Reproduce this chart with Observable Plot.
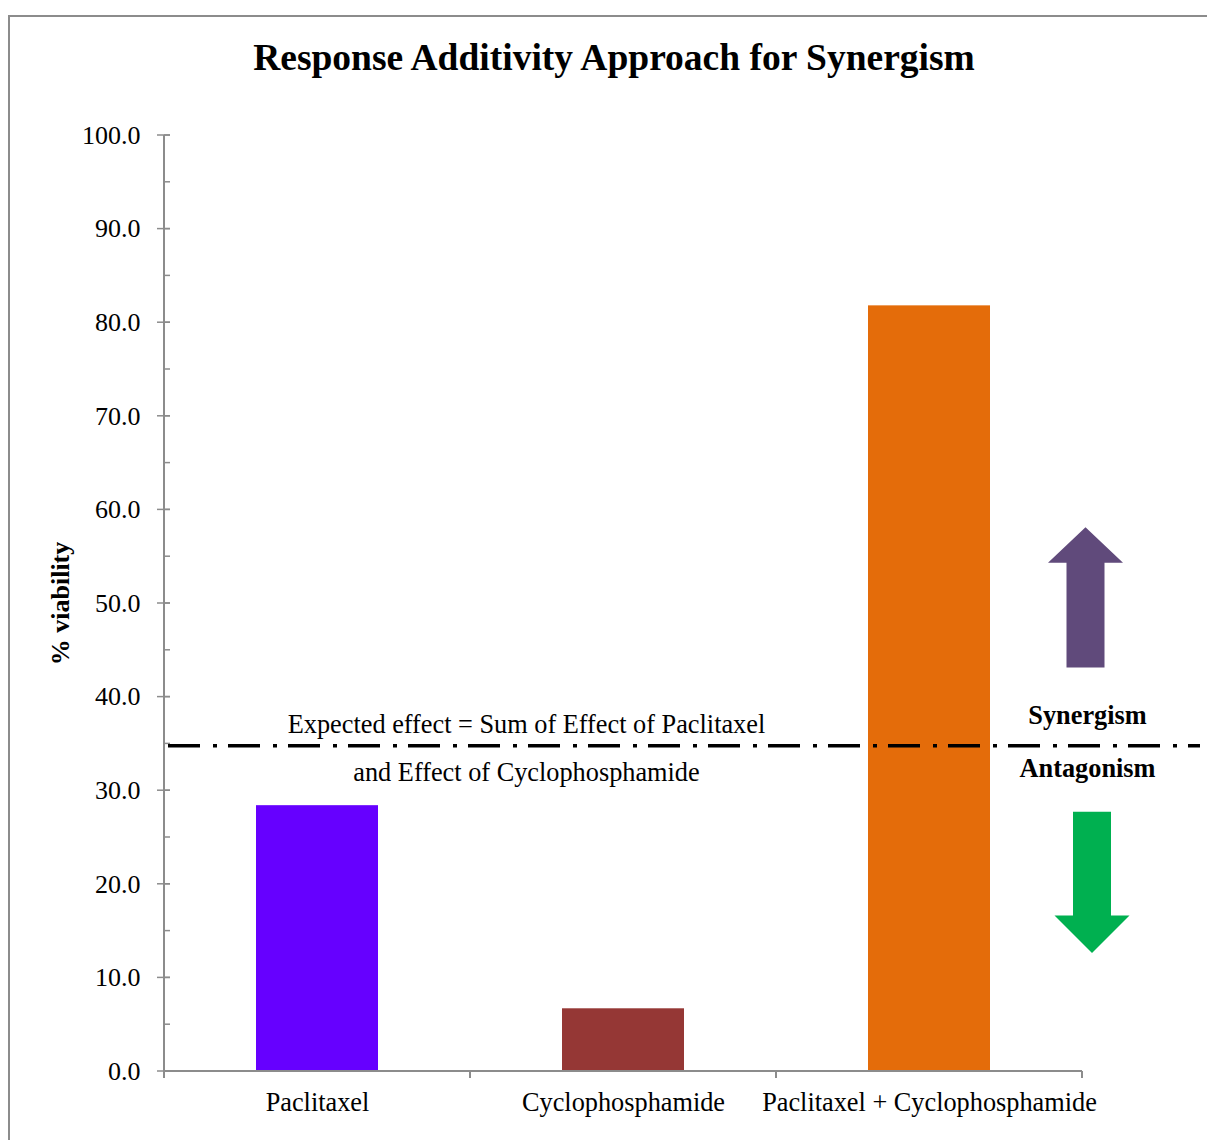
<!DOCTYPE html>
<html>
<head>
<meta charset="utf-8">
<script src="https://cdn.jsdelivr.net/npm/d3@7"></script>
<script src="https://cdn.jsdelivr.net/npm/@observablehq/plot@0.6"></script>
<style>
  html, body { margin: 0; padding: 0; background: #fff; overflow: hidden; }
  #page { position: relative; width: 1207px; height: 1140px; overflow: hidden; font-family: "Liberation Serif", "Times New Roman", serif; }
  #border { position: absolute; left: 8px; top: 15px; width: 1300px; height: 1300px; border: 2px solid #8c8c8c; box-sizing: border-box; }
  #title { position: absolute; left: 0; top: 40px; width: 1228px; text-align: center; font-size: 37.5px; line-height: 36px; font-weight: bold; color: #000; }
  #chart { position: absolute; left: 0; top: 100px; }
</style>
</head>
<body>
<div id="page">
  <div id="border"></div>
  <div id="title">Response Additivity Approach for Synergism</div>
  <div id="chart"></div>
</div>
<script>
// ---- data ----
const categories = ["Paclitaxel", "Cyclophosphamide", "Paclitaxel + Cyclophosphamide"];
const viability = [28.4, 6.7, 81.8];
const barColors = ["#6600FF", "#953735", "#E46C0A"];
const expectedEffect = 34.8;
const yTicks = [0, 10, 20, 30, 40, 50, 60, 70, 80, 90, 100];
const yMinorTicks = [0, 5, 10, 15, 20, 25, 30, 35, 40, 45, 50, 55, 60, 65, 70, 75, 80, 85, 90, 95, 100];
const upArrowY = [43.1, 54.3, 58.1];     // tail, head base, tip
const downArrowY = [27.7, 16.6, 12.6];   // tail, head base, tip
const expectedLines = ["Expected effect = Sum of Effect of Paclitaxel", "and Effect of Cyclophosphamide"];
const zoneLabels = ["Synergism", "Antagonism"];

const bars = categories.map((c, i) => ({category: c, value: viability[i], color: barColors[i]}));

const axisColor = "#8c8c8c";

// axis lines, ticks, and direction arrows drawn via the chart's scales
function axesAndArrows(index, scales, values, dims) {
  const {x, y} = scales;
  const g = d3.create("svg:g");
  const left = dims.marginLeft, right = dims.width - dims.marginRight;
  const bw = x.bandwidth ? x.bandwidth() : 0;
  g.append("line").attr("x1", left).attr("x2", left).attr("y1", y(0)).attr("y2", y(100))
    .attr("stroke", axisColor).attr("stroke-width", 2);
  g.append("line").attr("x1", left).attr("x2", right).attr("y1", y(0)).attr("y2", y(0))
    .attr("stroke", axisColor).attr("stroke-width", 2);
  for (const t of yMinorTicks) {
    g.append("line").attr("x1", left).attr("x2", left + 6).attr("y1", y(t)).attr("y2", y(t))
      .attr("stroke", axisColor).attr("stroke-width", 1.5);
  }
  for (const t of yTicks) {
    g.append("line").attr("x1", left - 7).attr("x2", left + 6).attr("y1", y(t)).attr("y2", y(t))
      .attr("stroke", axisColor).attr("stroke-width", 1.5);
  }
  const bounds = [left];
  for (let i = 0; i < categories.length - 1; i++) {
    bounds.push((x(categories[i]) + bw + x(categories[i + 1])) / 2);
  }
  bounds.push(right);
  for (const b of bounds) {
    g.append("line").attr("x1", b).attr("x2", b).attr("y1", y(0)).attr("y2", y(0) + 7)
      .attr("stroke", axisColor).attr("stroke-width", 2);
  }
  const arrow = (cx, ys, color) => {
    const [yt, yh, yp] = ys.map(y);
    const hs = 19, hh = 37.5;
    const pts = [[cx - hs, yt], [cx - hs, yh], [cx - hh, yh], [cx, yp], [cx + hh, yh], [cx + hs, yh], [cx + hs, yt]];
    g.append("polygon").attr("points", pts.map(p => p.join(",")).join(" ")).attr("fill", color);
  };
  arrow(right + 3.5, upArrowY, "#604A7B");
  arrow(right + 10, downArrowY, "#00B050");
  return g.node();
}

const plot = Plot.plot({
  width: 1207,
  height: 1040,
  marginTop: 35,
  marginBottom: 69,
  marginLeft: 164,
  marginRight: 125,
  style: {fontFamily: "Liberation Serif, Times New Roman, serif", fontSize: "26px", color: "#000", background: "transparent"},
  x: {domain: categories, paddingInner: 0.6, paddingOuter: 0.3, label: null},
  y: {domain: [0, 100], label: null},
  marks: [
    Plot.barY(bars, {x: "category", y: "value", fill: "color"}),
    axesAndArrows,
    Plot.axisY({ticks: yTicks, tickSize: 0, tickPadding: 24, tickFormat: d3.format(".1f"), fontSize: 26}),
    Plot.axisX({tickSize: 0, tickPadding: 21, fontSize: 26.3}),
    Plot.ruleY([expectedEffect], {stroke: "#000", strokeWidth: 3.5, strokeDasharray: "32,13,4,11", insetLeft: 4, insetRight: -118}),
    Plot.text([expectedLines[0]], {x: () => categories[1], y: () => expectedEffect, text: d => d, dx: -97, dy: -13, lineAnchor: "bottom", fontSize: 26.3}),
    Plot.text([expectedLines[1]], {x: () => categories[1], y: () => expectedEffect, text: d => d, dx: -97, dy: 35, lineAnchor: "bottom", fontSize: 26.3}),
    Plot.text([zoneLabels[0]], {x: () => categories[2], y: () => expectedEffect, text: d => d, dx: 158, dy: -22, lineAnchor: "bottom", fontSize: 26.3, fontWeight: "bold"}),
    Plot.text([zoneLabels[1]], {x: () => categories[2], y: () => expectedEffect, text: d => d, dx: 158, dy: 31, lineAnchor: "bottom", fontSize: 26.3, fontWeight: "bold"}),
    Plot.text(["% viability"], {frameAnchor: "left", textAnchor: "middle", lineAnchor: "middle", text: d => d, rotate: -90, dx: -104, fontSize: 26, fontWeight: "bold"})
  ]
});
document.getElementById("chart").appendChild(plot);
</script>
</body>
</html>
